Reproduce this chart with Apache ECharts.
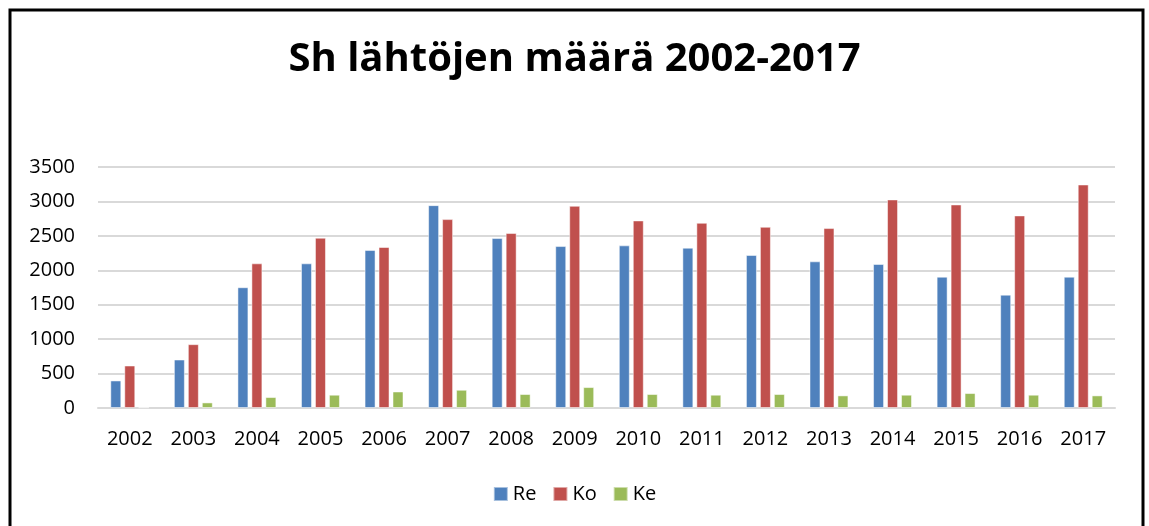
<!DOCTYPE html>
<html>
<head>
<meta charset="utf-8">
<script src="https://cdn.jsdelivr.net/npm/echarts@6/dist/echarts.min.js"></script>
<style>
  html, body { margin: 0; padding: 0; background: #fff; }
  #chart { width: 1149px; height: 526px; }
</style>
</head>
<body>
<div id="chart"></div>
<script>
const years = ['2002', '2003', '2004', '2005', '2006', '2007', '2008', '2009',
               '2010', '2011', '2012', '2013', '2014', '2015', '2016', '2017'];
const re = [400, 704, 1754, 2101, 2294, 2946, 2468, 2352, 2362, 2328, 2222, 2130, 2091, 1907, 1646, 1907];
const ko = [617, 927, 2101, 2473, 2338, 2743, 2541, 2937, 2724, 2690, 2632, 2613, 3029, 2956, 2797, 3246];
const ke = [10, 81, 159, 193, 240, 265, 203, 304, 203, 193, 203, 183, 193, 217, 193, 183];

const font = '"Open Sans", "Liberation Sans", sans-serif';

const chart = echarts.init(document.getElementById('chart'));

function barSeries(name, data, color) {
    return {
        name: name,
        type: 'bar',
        data: data,
        barWidth: 11,
        barGap: '27%',
        itemStyle: { color: color, borderColor: 'rgba(255,255,255,0.5)', borderWidth: 1 }
    };
}

chart.setOption({
    animation: false,
    textStyle: { fontFamily: font },
    title: {
        text: 'Sh lähtöjen määrä 2002-2017',
        left: 'center',
        top: 35,
        textStyle: { fontFamily: font, fontWeight: 'bold', fontSize: 40, color: '#000' }
    },
    legend: {
        bottom: 17,
        left: 'center',
        itemWidth: 14,
        itemHeight: 14,
        itemGap: 16,
        icon: 'rect',
        textStyle: { fontFamily: font, fontSize: 20, color: '#000' }
    },
    grid: { left: 98, right: 34, top: 167, bottom: 118 },
    xAxis: {
        type: 'category',
        data: years,
        axisLine: { lineStyle: { color: '#d9d9d9', width: 2 } },
        axisTick: { show: false },
        axisLabel: { fontFamily: font, fontSize: 20, color: '#000', margin: 21 }
    },
    yAxis: {
        type: 'value',
        min: 0,
        max: 3500,
        interval: 500,
        axisLine: { show: false },
        axisTick: { show: false },
        splitLine: { lineStyle: { color: '#d9d9d9', width: 2 } },
        axisLabel: { fontFamily: font, fontSize: 20, color: '#000', margin: 23, formatter: v => String(v) }
    },
    series: [
        barSeries('Re', re, '#4f81bd'),
        barSeries('Ko', ko, '#c0504d'),
        barSeries('Ke', ke, '#9bbb59')
    ],
    graphic: [{
        type: 'rect',
        shape: { x: 10, y: 10, width: 1133, height: 600 },
        style: { fill: 'none', stroke: '#000', lineWidth: 3 },
        silent: true
    }]
});
</script>
</body>
</html>
